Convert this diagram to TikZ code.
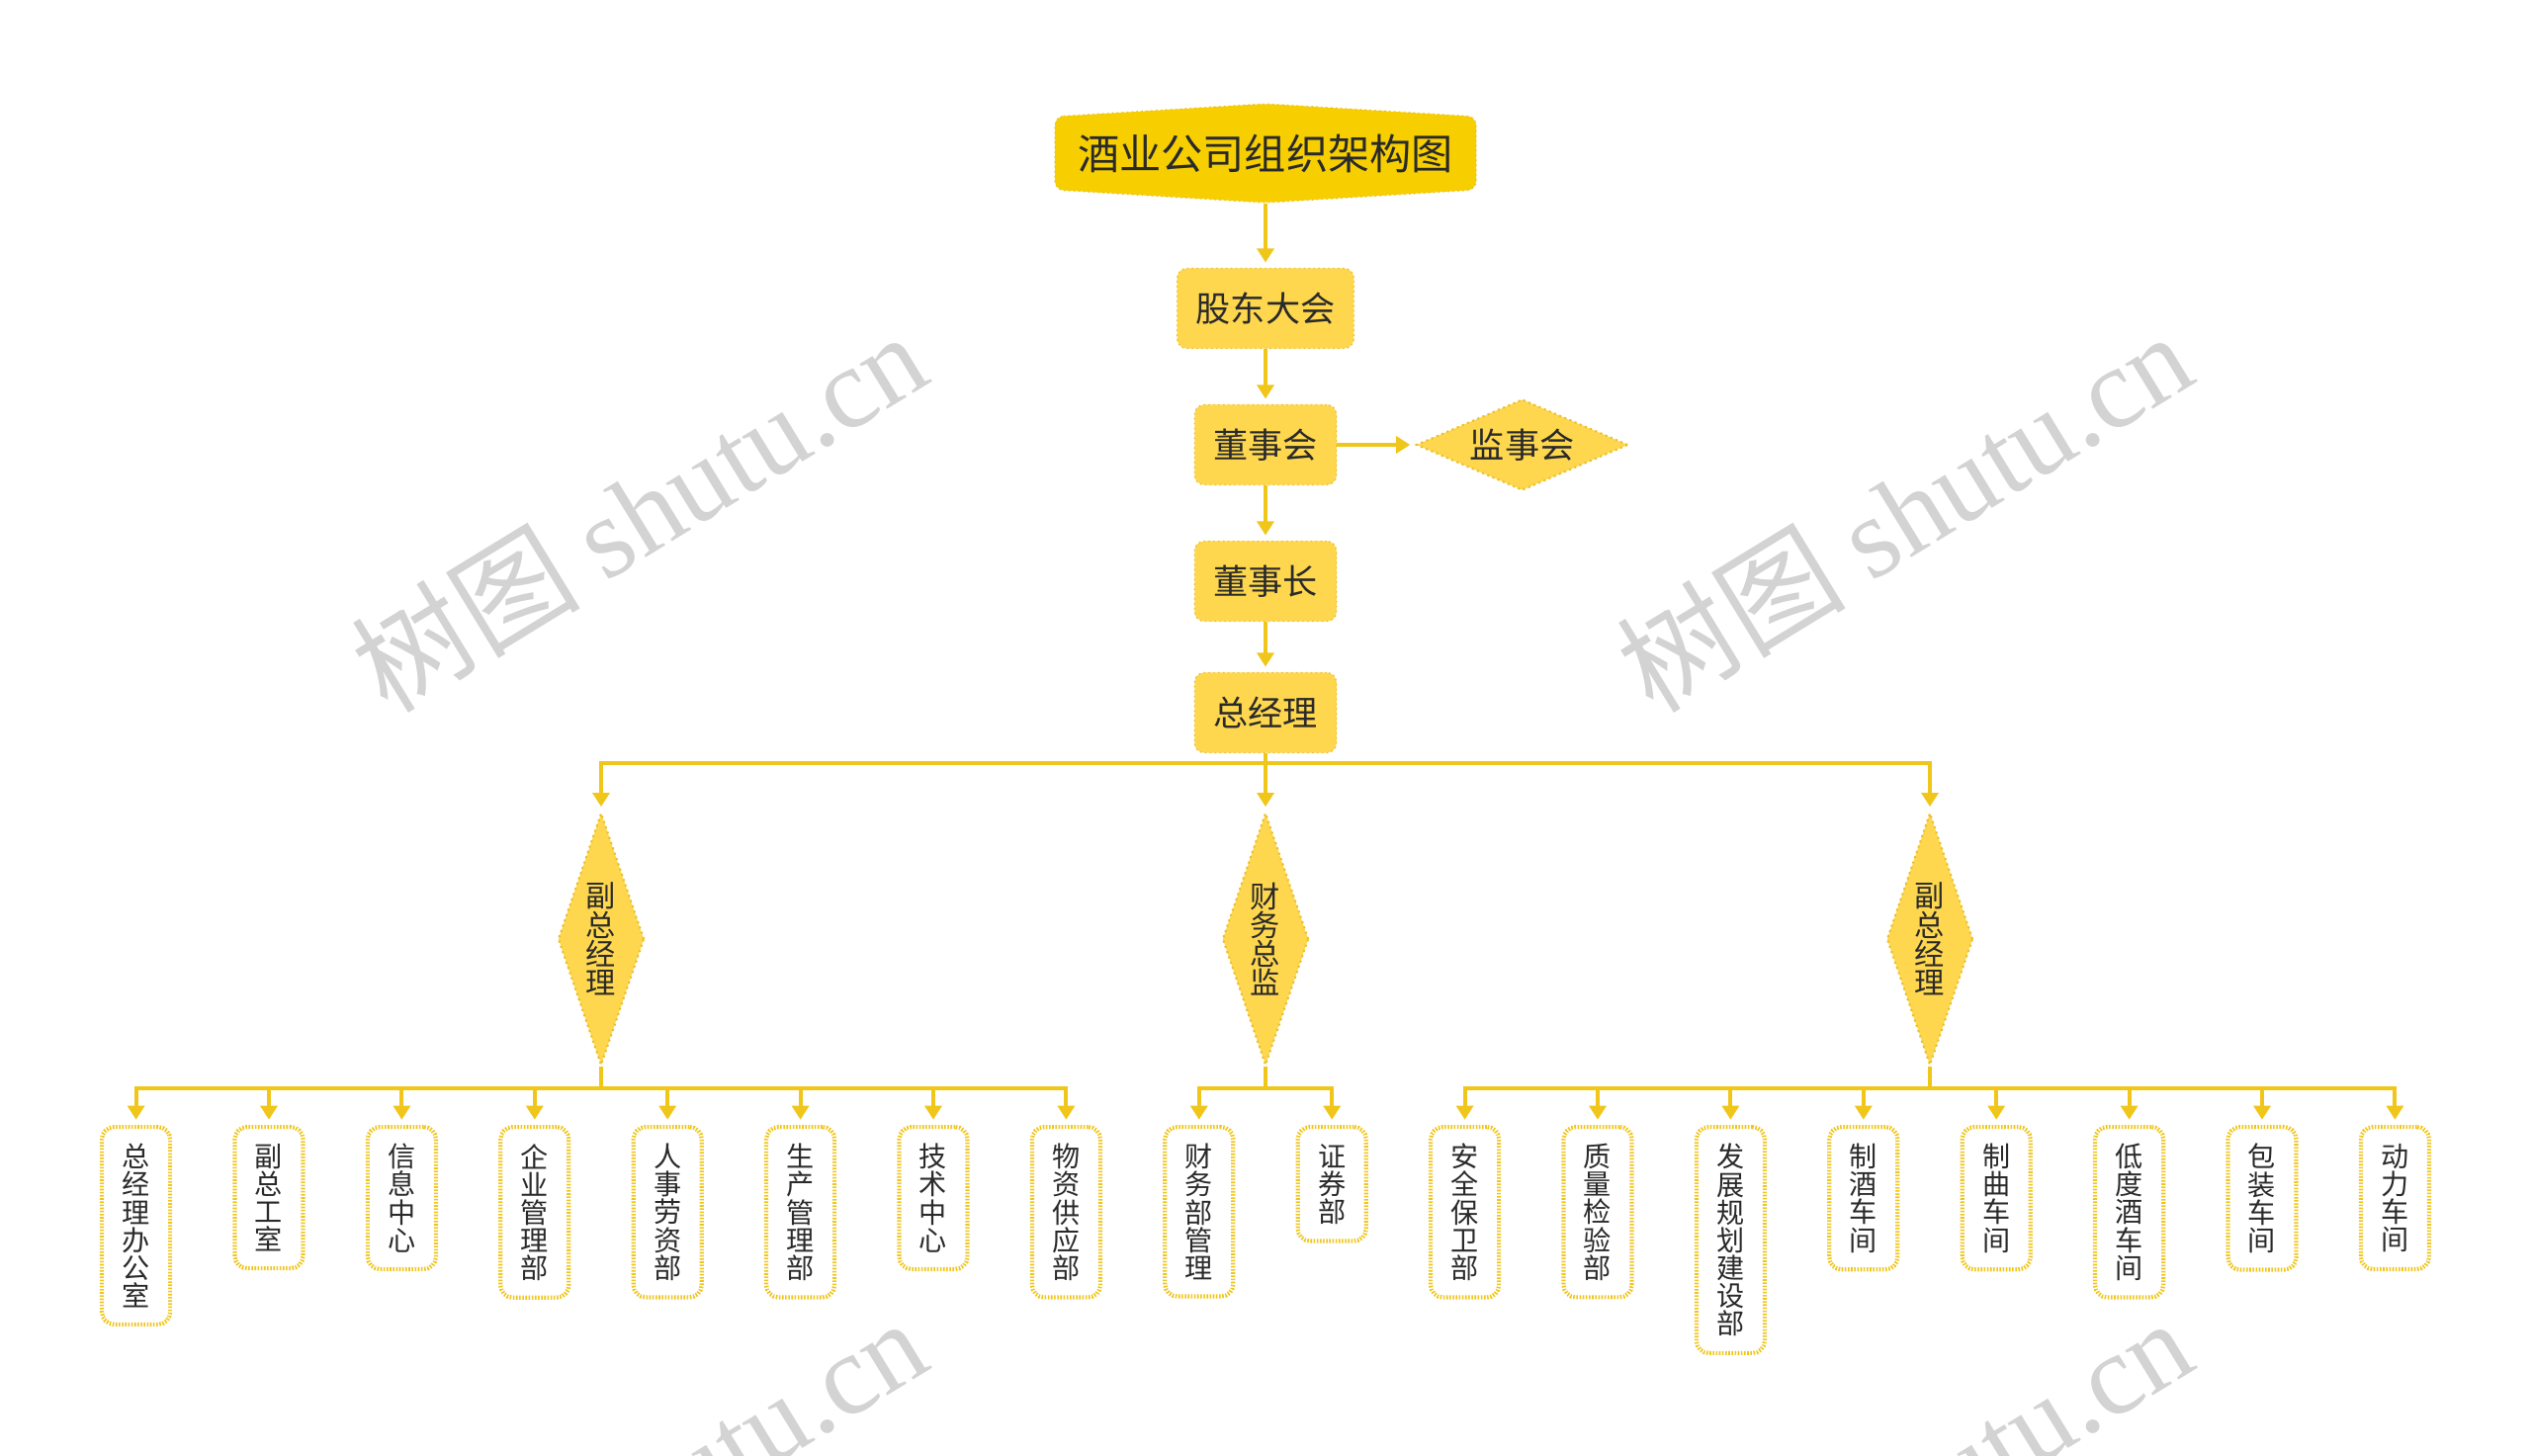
\documentclass[tikz,border=0pt]{standalone}
\usepackage{fontspec}
\setmainfont{Noto Sans CJK SC}
\newfontfamily\markfont{Liberation Serif}
\usepackage{tikz}
\usetikzlibrary{positioning, shapes.geometric, arrows.meta, calc}
\definecolor{titleyellow}{HTML}{F7CF00}
\definecolor{boxyellow}{HTML}{FED74E}
\definecolor{edgeyellow}{HTML}{EBC02A}
\definecolor{lineyellow}{HTML}{F0C61A}
\definecolor{textdark}{HTML}{2A2A2A}
\definecolor{markgray}{HTML}{D3D3D3}

\tikzset{
	link/.style={draw=lineyellow, line width=1.1pt, -{Triangle[length=4pt,width=4.8pt]}, shorten >=1.5pt},
	bus/.style={draw=lineyellow, line width=1.1pt},
	topbox/.style={rectangle, rounded corners=2.8pt, fill=boxyellow, draw=edgeyellow, densely dotted, line width=0.4pt, text=textdark, font=\fontsize{10}{12}\selectfont, inner xsep=0.19cm, minimum height=0.81cm},
	vpbox/.style={diamond, fill=boxyellow, draw=edgeyellow, densely dotted, line width=0.6pt, text=textdark, font=\fontsize{8.6}{8.3}\selectfont, align=center, inner sep=0pt, minimum width=0.87cm, minimum height=2.55cm, shape aspect=0.34},
	leafbox/.style={rectangle, rounded corners=3.5pt, fill=white, draw=lineyellow, line width=1.2pt, dash pattern=on 0.45pt off 0.45pt, text=textdark, font=\fontsize{8}{8}\selectfont, align=center, anchor=north, minimum width=0.69cm, inner ysep=0.17cm, inner xsep=0pt},
	wmark/.style={text=markgray, rotate=31.5, font=\fontsize{33}{33}\selectfont}
}

\begin{document}
\begin{tikzpicture}[x=0.01cm, y=-0.01cm]
	\fill[white] (0,0) rectangle (2560,1472);
	\useasboundingbox (0,0) rectangle (2560,1472);

	% watermarks
	\node[wmark] (wm1) at (646,517) {树图 {\markfont shutu.cn}};
	\node[wmark] (wm2) at (1926,517) {树图 {\markfont shutu.cn}};
	\node[wmark] (wm3) at (646,1515) {树图 {\markfont shutu.cn}};
	\node[wmark] (wm4) at (1926,1515) {树图 {\markfont shutu.cn}};

	% title
	\coordinate (tc) at (1280,155);
	\filldraw[fill=titleyellow, draw=edgeyellow, densely dotted, line width=0.4pt, rounded corners=2.5pt]
		($(tc)+(-213,-37)$) -- ($(tc)+(0,-50)$) -- ($(tc)+(213,-37)$) -- ($(tc)+(213,37)$) -- ($(tc)+(0,50)$) -- ($(tc)+(-213,37)$) -- cycle;
	\node[text=textdark, font=\fontsize{12}{14}\selectfont, minimum height=1cm, inner sep=0pt] (title) at (tc) {酒业公司组织架构图};

	% top chain
	\node[topbox] (meeting) at (1280,312) {股东大会};
	\node[topbox] (board) at (1280,450) {董事会};
	\node[vpbox, shape aspect=2.33, font=\fontsize{10}{12}\selectfont, minimum width=2.14cm, minimum height=0.92cm, right=0.79cm of board] (super) {监事会};
	\node[topbox] (chair) at (1280,588) {董事长};
	\node[topbox] (gm) at (1280,721) {总经理};

	\draw[link] (title.south) -- (meeting.north);
	\draw[link] (meeting.south) -- (board.north);
	\draw[link] (board.east) -- (super.west);
	\draw[link] (board.south) -- (chair.north);
	\draw[link] (chair.south) -- (gm.north);

	% second level
	\node[vpbox] (vpl) at (608,950) {副\\总\\经\\理};
	\node[vpbox] (cfo) at (1280,950) {财\\务\\总\\监};
	\node[vpbox] (vpr) at (1952,950) {副\\总\\经\\理};

	\coordinate (gmbus) at (1280,772);
	\draw[bus] (gm.south) -- (gmbus);
	\draw[link] (gmbus) -| (vpl.north);
	\draw[link] (gmbus) -- (cfo.north);
	\draw[link] (gmbus) -| (vpr.north);

	% departments
	\foreach \i/\t in {1/{总\\经\\理\\办\\公\\室}, 2/{副\\总\\工\\室}, 3/{信\\息\\中\\心}, 4/{企\\业\\管\\理\\部},
		5/{人\\事\\劳\\资\\部}, 6/{生\\产\\管\\理\\部}, 7/{技\\术\\中\\心}, 8/{物\\资\\供\\应\\部},
		9/{财\\务\\部\\管\\理}, 10/{证\\券\\部},
		11/{安\\全\\保\\卫\\部}, 12/{质\\量\\检\\验\\部}, 13/{发\\展\\规\\划\\建\\设\\部}, 14/{制\\酒\\车\\间},
		15/{制\\曲\\车\\间}, 16/{低\\度\\酒\\车\\间}, 17/{包\\装\\车\\间}, 18/{动\\力\\车\\间}}
		\node[leafbox] (l\i) at ({1280+(\i-9.5)*134.4},1138) {\t};

	\coordinate (lbus) at (608,1101);
	\coordinate (cbus) at (1280,1101);
	\coordinate (rbus) at (1952,1101);
	\draw[bus] (vpl.south) -- (lbus);
	\draw[bus] (cfo.south) -- (cbus);
	\draw[bus] (vpr.south) -- (rbus);
	\foreach \i in {1,...,8}
		\draw[link] (lbus) -| (l\i.north);
	\foreach \i in {9,10}
		\draw[link] (cbus) -| (l\i.north);
	\foreach \i in {11,...,18}
		\draw[link] (rbus) -| (l\i.north);
\end{tikzpicture}
\end{document}
